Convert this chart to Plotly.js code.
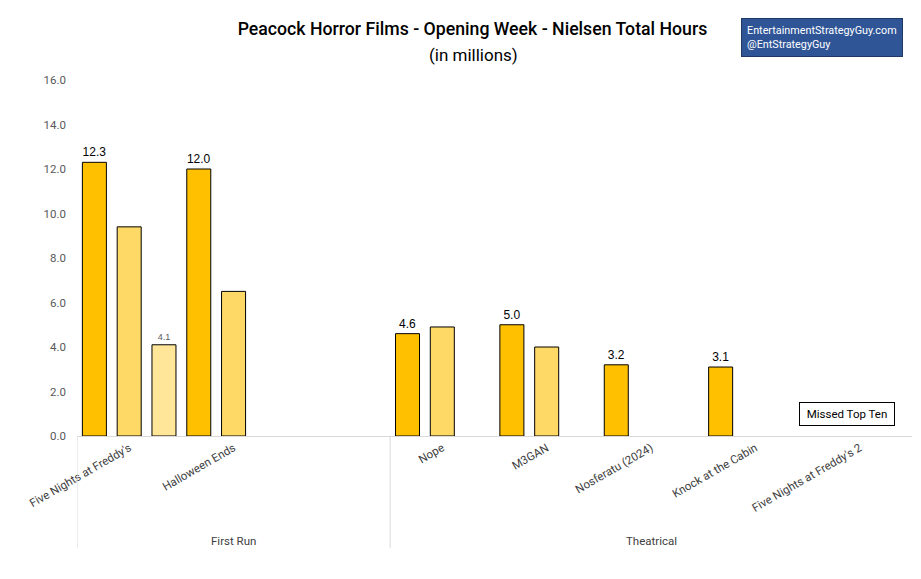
<!DOCTYPE html>
<html>
<head>
<meta charset="utf-8">
<script src="https://cdn.plot.ly/plotly-3.0.1.min.js"></script>
<style>html,body{margin:0;padding:0;background:#fff;}#chart{width:921px;height:579px;}</style>
</head>
<body>
<div id="chart"></div>
<script>
const categories = ["Five Nights at Freddy's", "Halloween Ends", " ", "Nope", "M3GAN", "Nosferatu (2024)", "Knock at the Cabin", "Five Nights at Freddy's 2"];
const groups = ["First Run", "Theatrical"];
const week1 = [12.3, 12.0, null, 4.6, 5.0, 3.2, 3.1, null];
const week2 = [9.4, 6.5, null, 4.9, 4.0, null, null, null];
const week3 = [4.1, null, null, null, null, null, null, null];
const yTicks = [0, 2, 4, 6, 8, 10, 12, 14, 16];

const NARROW = "Roboto, sans-serif";
const ARIAL = "'Liberation Sans', Arial, sans-serif";

const line = {color: '#000000', width: 1};
const traces = [
  {type: 'bar', x: categories, y: week1, marker: {color: '#FFC000', line: line},
   texttemplate: '%{y:.1f}', textposition: 'outside', cliponaxis: false,
   textfont: {family: ARIAL, size: 12, color: '#000000'}, hoverinfo: 'x+y'},
  {type: 'bar', x: categories, y: week2, marker: {color: '#FFD966', line: line}, hoverinfo: 'x+y'},
  {type: 'bar', x: categories, y: week3, marker: {color: '#FFE699', line: line},
   texttemplate: '%{y:.1f}', textposition: 'outside', cliponaxis: false,
   textfont: {family: ARIAL, size: 9, color: '#595959'}, hoverinfo: 'x+y'}
];

const layout = {
  width: 921, height: 579,
  margin: {l: 77, r: 9, t: 80, b: 143},
  paper_bgcolor: '#ffffff', plot_bgcolor: '#ffffff',
  showlegend: false,
  barmode: 'group', bargap: 0.0, bargroupgap: 0.31,
  title: {
    text: "Peacock Horror Films - Opening Week - Nielsen Total Hours",
    x: 0.513, xanchor: 'center', y: 0.95, yanchor: 'middle',
    font: {family: NARROW, size: 17.7, color: '#000000', weight: 500}
  },
  xaxis: {
    type: 'category', categoryorder: 'array', categoryarray: categories,
    range: [-0.5, 7.5], tickangle: -30, showgrid: false, zeroline: false,
    showline: true, linecolor: '#D9D9D9', linewidth: 1, ticks: '',
    tickfont: {family: NARROW, size: 11.5, color: '#404040'}
  },
  yaxis: {
    range: [0, 16], tickvals: yTicks, tickformat: '.1f', showgrid: false,
    zeroline: false, showline: false, ticks: '', ticklabelstandoff: 10,
    tickfont: {family: NARROW, size: 11.5, color: '#595959'}
  },
  shapes: [
    {type: 'line', xref: 'x', yref: 'paper', x0: -0.5, x1: -0.5, y0: 0, y1: -0.315, line: {color: '#D9D9D9', width: 1}},
    {type: 'line', xref: 'x', yref: 'paper', x0: 2.5, x1: 2.5, y0: 0, y1: -0.315, line: {color: '#D9D9D9', width: 1}}
  ],
  annotations: [
    {xref: 'paper', yref: 'paper', x: 0.475, y: 1.070, text: '(in millions)', showarrow: false,
     xanchor: 'center', yanchor: 'middle', font: {family: NARROW, size: 17, color: '#000000'}},
    {xref: 'x', yref: 'paper', x: 1, y: -0.295, text: groups[0], showarrow: false, yanchor: 'middle',
     font: {family: NARROW, size: 11.5, color: '#404040'}},
    {xref: 'x', yref: 'paper', x: 5, y: -0.295, text: groups[1], showarrow: false, yanchor: 'middle',
     font: {family: NARROW, size: 11.5, color: '#404040'}},
    {xref: 'x', yref: 'y', x: categories[7], y: 0.97, xshift: -13, text: 'Missed Top Ten', showarrow: false,
     bgcolor: '#ffffff', bordercolor: '#000000', borderwidth: 1, borderpad: 4, width: 86,
     font: {family: NARROW, size: 11.5, color: '#000000'}},
    {xref: 'paper', yref: 'paper', x: 0.795, y: 1.174, xanchor: 'left', yanchor: 'top', align: 'left',
     text: 'EntertainmentStrategyGuy.com<br>@EntStrategyGuy', showarrow: false,
     bgcolor: '#2F5597', bordercolor: '#1F3864', borderwidth: 1, borderpad: 5, width: 150,
     font: {family: NARROW, size: 10.8, color: '#ffffff'}}
  ]
};

Plotly.newPlot('chart', traces, layout, {displayModeBar: false, staticPlot: true});
</script>
</body>
</html>
